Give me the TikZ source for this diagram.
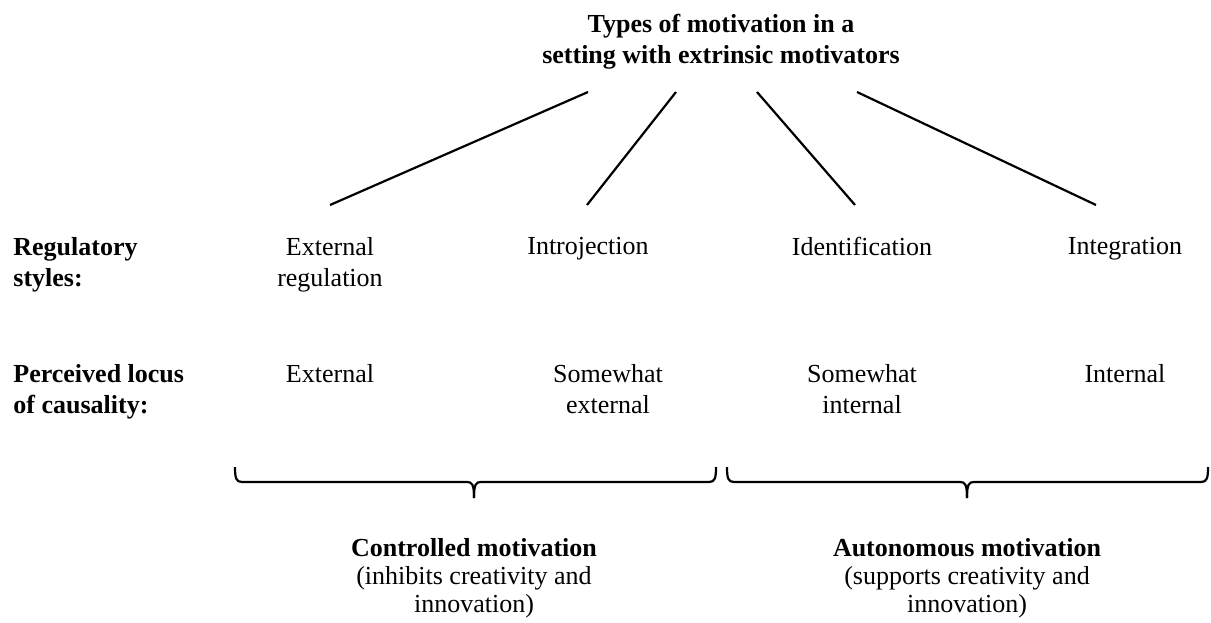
\documentclass[tikz,border=0pt]{standalone}
\usepackage{fontspec}
\setmainfont{Liberation Serif}
\begin{document}
\begin{tikzpicture}[x=0.5pt,y=-0.5pt,
  txt/.style={inner sep=0pt,align=center,anchor=north,font=\fontsize{13}{15.5}\selectfont},
  hd/.style={inner sep=0pt,align=left,anchor=north west,font=\fontsize{13}{15.5}\selectfont\bfseries},
  bot/.style={inner sep=0pt,align=center,anchor=north,font=\fontsize{13}{14}\selectfont},
  conn/.style={line width=1.1pt},
  brace/.style={line width=1.1pt}]
\useasboundingbox (0,0) rectangle (1211,622);
% title
\node[txt,font=\fontsize{13}{15.5}\selectfont\bfseries] (title) at (721,14) {Types of motivation in a\\setting with extrinsic motivators};
% row labels
\node[hd] (reg) at (13,237) {Regulatory\\styles:};
\node[hd] (loc) at (13,364) {Perceived locus\\of causality:};
% regulatory styles
\node[txt] (ext) at (330,237) {External\\regulation};
\node[txt] (intro) at (588,237) {Introjection};
\node[txt] (ident) at (862,237) {Identification};
\node[txt] (integ) at (1125,237) {Integration};
% loci
\node[txt] (lext) at (330,364) {External};
\node[txt] (lsext) at (608,364) {Somewhat\\external};
\node[txt] (lsint) at (862,364) {Somewhat\\internal};
\node[txt] (lint) at (1125,364) {Internal};
% connectors
\coordinate (t1) at (588,92); \coordinate (b1) at (330,205);
\coordinate (t2) at (676,92); \coordinate (b2) at (587,205);
\coordinate (t3) at (757,92); \coordinate (b3) at (855,205);
\coordinate (t4) at (857,92); \coordinate (b4) at (1096,205);
\draw[conn] (t1) -- (b1);
\draw[conn] (t2) -- (b2);
\draw[conn] (t3) -- (b3);
\draw[conn] (t4) -- (b4);
% braces
\coordinate (la) at (235,467); \coordinate (lt) at (474,498); \coordinate (lb) at (716,467);
\coordinate (ra) at (727,467); \coordinate (rt) at (967,498); \coordinate (rb) at (1208,467);
\draw[brace] (la) .. controls (235,478) and (236,482) .. (242,482) -- (467,482) .. controls (472,482) and (474,484) .. (lt);
\draw[brace] (lb) .. controls (716,478) and (715,482) .. (709,482) -- (481,482) .. controls (476,482) and (474,484) .. (lt);
\draw[brace] (ra) .. controls (727,478) and (728,482) .. (734,482) -- (960,482) .. controls (965,482) and (967,484) .. (rt);
\draw[brace] (rb) .. controls (1208,478) and (1207,482) .. (1201,482) -- (974,482) .. controls (969,482) and (967,484) .. (rt);
% bottom
\node[bot] (ctrl) at (474,538) {\textbf{Controlled motivation}\\(inhibits creativity and\\innovation)};
\node[bot] (auto) at (967,538) {\textbf{Autonomous motivation}\\(supports creativity and\\innovation)};
\end{tikzpicture}
\end{document}
